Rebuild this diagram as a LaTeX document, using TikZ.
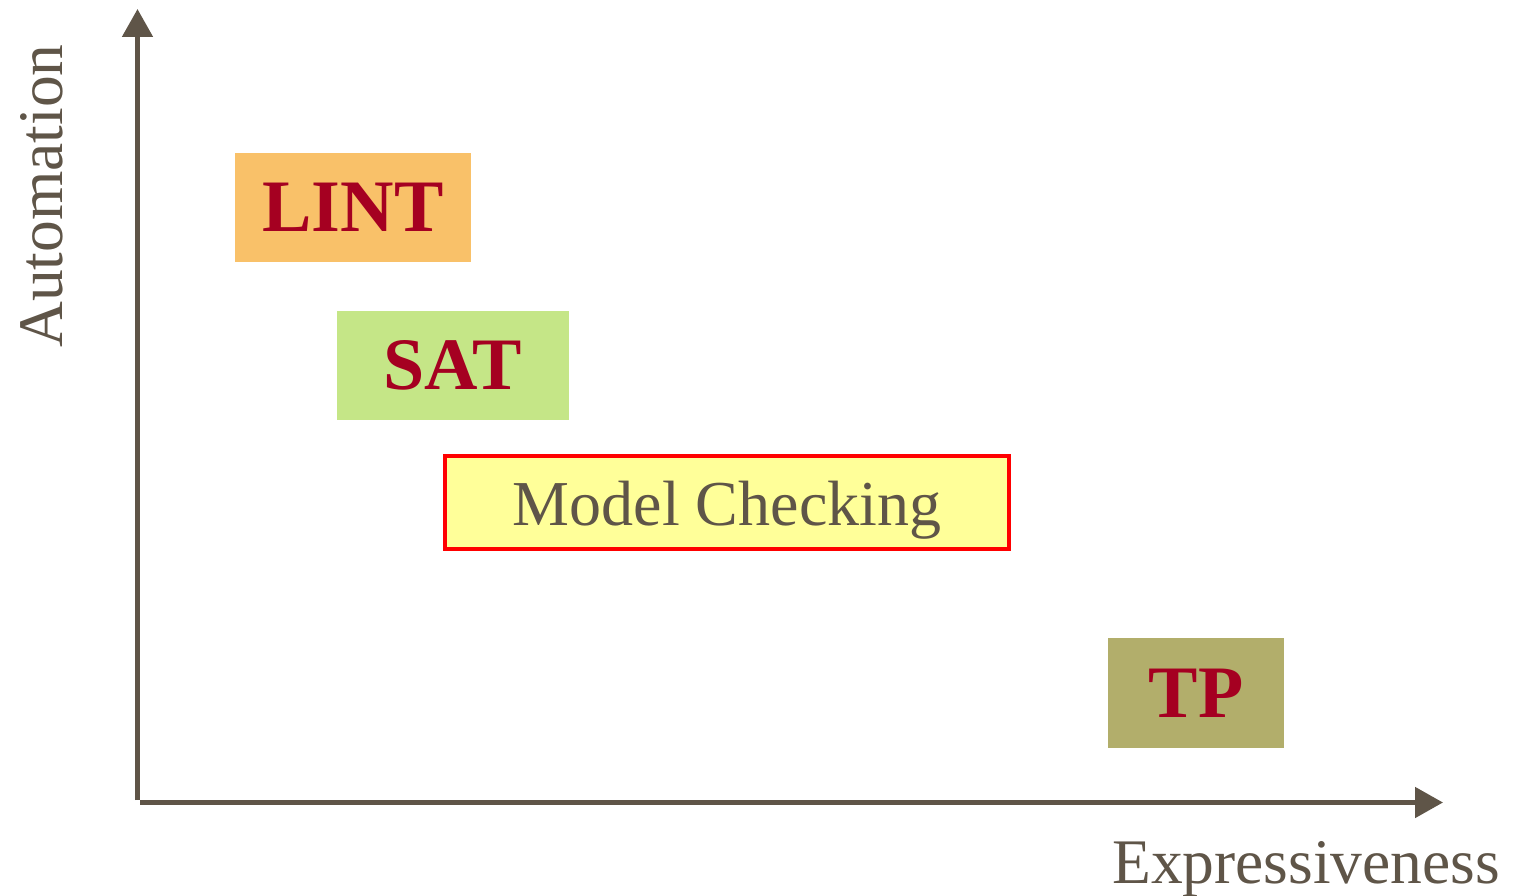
\documentclass[tikz,border=0pt]{standalone}
\usepackage{fontspec}
\setmainfont{Liberation Serif}
\usetikzlibrary{arrows.meta}
\definecolor{axisgray}{HTML}{5F5548}
\definecolor{toolred}{HTML}{A50021}
\definecolor{lintorange}{HTML}{F9C169}
\definecolor{satgreen}{HTML}{C5E687}
\definecolor{mcyellow}{HTML}{FFFF99}
\definecolor{tpolive}{HTML}{B2AE6B}
\begin{document}
\begin{tikzpicture}[x=1pt,y=-1pt,
  axis/.style={draw=axisgray, line width=5pt, -{Triangle[length=28pt,width=30pt]}},
  axislabel/.style={inner sep=0pt, text=axisgray, font=\fontsize{63.5}{64}\selectfont},
  tool/.style={inner sep=0pt, text=toolred, text depth=0pt,
    font=\fontsize{74}{74}\selectfont\bfseries}]
\useasboundingbox (0,0) rectangle (1513,896);

% axes
\coordinate (ybot) at (137.5,800);
\coordinate (ytop) at (137.5,9);
\coordinate (xleft) at (140,802.5);
\coordinate (xright) at (1443,802.5);
\draw[axis] (ybot) -- (ytop);
\draw[axis] (xleft) -- (xright);

\node[axislabel, rotate=90, anchor=base] (ylab) at (62,196) {Automation};
\node[axislabel, anchor=base west] (xlab) at (1112,883) {Expressiveness};

% techniques
\node[tool, fill=lintorange, minimum width=236pt, minimum height=109pt] (lint) at (353,207.5) {LINT};
\node[tool, fill=satgreen, minimum width=232pt, minimum height=109pt] (sat) at (453,365.5) {SAT};
\node[inner sep=0pt, fill=mcyellow, draw=red, line width=4pt,
  minimum width=564pt, minimum height=93pt, text=axisgray, text depth=0pt,
  font=\fontsize{64}{64}\selectfont] (mc) at (727,502.5) {\raisebox{-2pt}{Model Checking}};
\node[tool, fill=tpolive, minimum width=176pt, minimum height=110pt] (tp) at (1196,693) {TP};
\end{tikzpicture}
\end{document}
